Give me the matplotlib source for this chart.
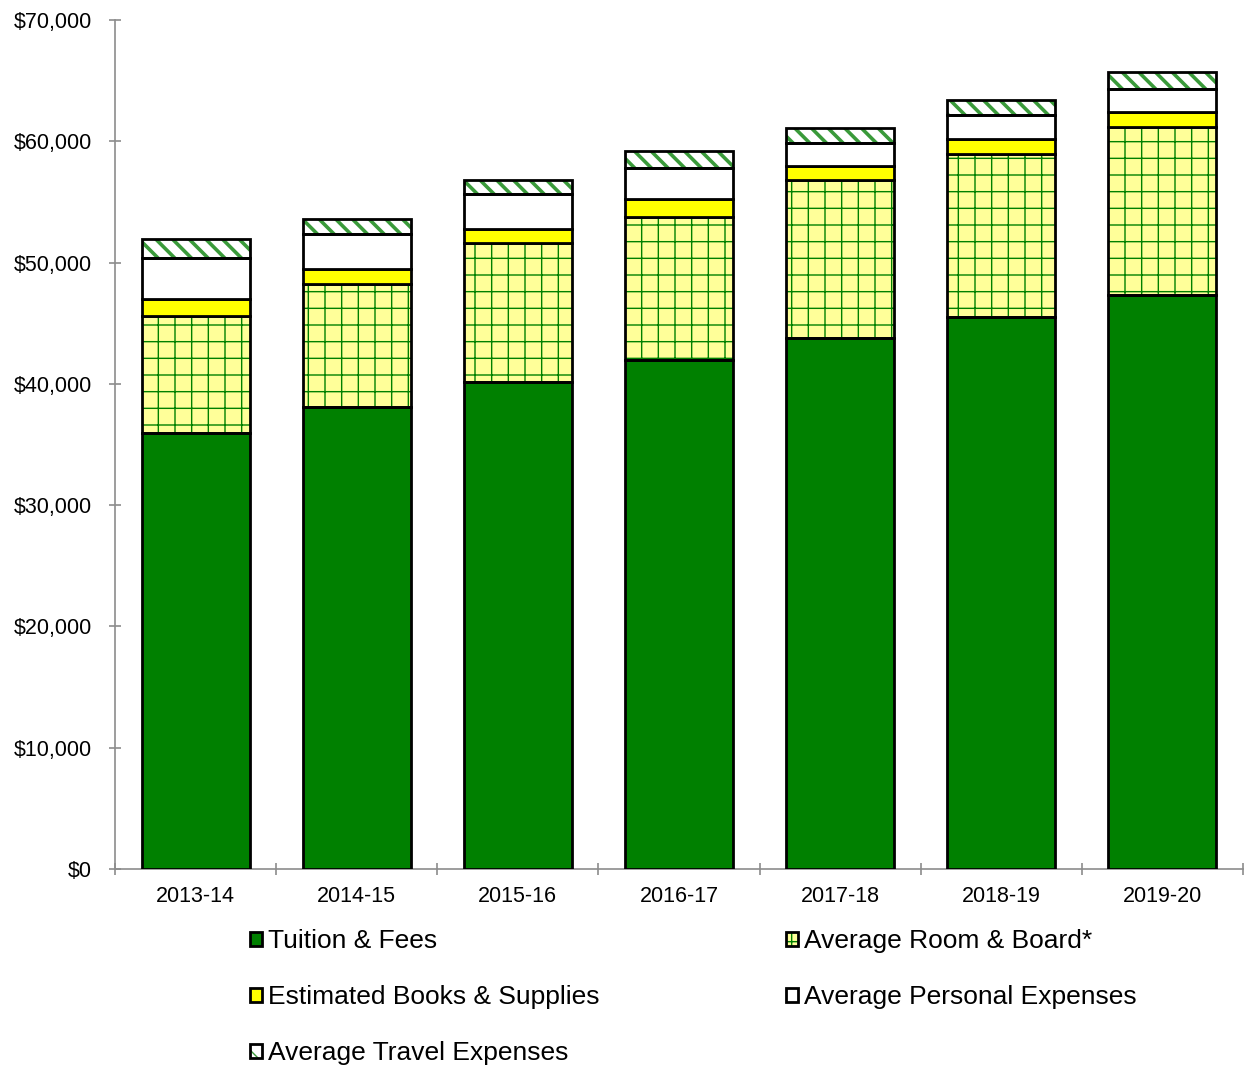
"""Stacked cost-of-attendance bars, 2013-14 to 2019-20."""

import matplotlib

matplotlib.use("Agg")

import matplotlib.pyplot as plt
from matplotlib.legend_handler import HandlerTuple
from matplotlib.ticker import FuncFormatter, MultipleLocator

plt.rcParams["font.family"] = ["Liberation Sans", "DejaVu Sans"]
plt.rcParams["hatch.linewidth"] = 1.0

years = ["2013-14", "2014-15", "2015-16", "2016-17", "2017-18", "2018-19", "2019-20"]
tuition = [35970, 38120, 40150, 41970, 43750, 45510, 47320]
room_board = [9650, 10140, 11440, 11760, 13050, 13460, 13830]
books = [1370, 1210, 1200, 1480, 1150, 1240, 1290]
personal = [3360, 2860, 2840, 2590, 1870, 1960, 1890]
travel = [1570, 1260, 1150, 1400, 1240, 1230, 1380]

labels = ["Tuition & Fees", "Average Room & Board*", "Estimated Books & Supplies",
          "Average Personal Expenses", "Average Travel Expenses"]
series = [tuition, room_board, books, personal, travel]
faces = ["#008000", "#FFFF99", "#FFFF00", "#FFFFFF", "#FFFFFF"]
hatches = [None, "+", None, None, "\\\\"]
hatch_colors = [None, "#008000", None, None, "#3A9A3A"]
hatch_widths = [None, 1.0, None, None, 2.6]

fig = plt.figure(figsize=(12.46, 10.68), dpi=100)
ax = fig.add_axes([0.0923, 0.1863, 0.9053, 0.795])

x = list(range(len(years)))
width = 0.67
bottom = [0] * len(years)
handles = {}
for lab, vals, fc, h, hc, hw in zip(labels, series, faces, hatches, hatch_colors, hatch_widths):
    parts = []
    if h:
        hb = ax.bar(x, vals, width, bottom=bottom, facecolor=fc, edgecolor=hc,
                    hatch=h, linewidth=0, zorder=2)
        for p in hb:
            if hasattr(p, "set_hatch_linewidth"):
                p.set_hatch_linewidth(hw)
        parts.append(hb[0])
        ob = ax.bar(x, vals, width, bottom=bottom, facecolor="none",
                    edgecolor="black", linewidth=2.0, zorder=3)
    else:
        ob = ax.bar(x, vals, width, bottom=bottom, facecolor=fc,
                    edgecolor="black", linewidth=2.0, zorder=3)
    parts.append(ob[0])
    handles[lab] = tuple(parts)
    bottom = [b + v for b, v in zip(bottom, vals)]

ax.set_xlim(-0.5, len(years) - 0.5)
ax.set_ylim(0, 70000)
ax.yaxis.set_major_locator(MultipleLocator(10000))
ax.yaxis.set_major_formatter(FuncFormatter(lambda v, _: f"${v:,.0f}"))
ax.set_xticks(x)
ax.set_xticklabels(years)
ax.set_xticks([i - 0.5 for i in range(len(years) + 1)], minor=True)

for side in ("top", "right"):
    ax.spines[side].set_visible(False)
for side in ("left", "bottom"):
    ax.spines[side].set_color("#8C8C8C")
    ax.spines[side].set_linewidth(1.2)

ax.tick_params(axis="y", direction="inout", length=9, width=1.2, color="#8C8C8C",
               labelsize=15.5, pad=12)
ax.tick_params(axis="x", which="major", length=0, labelsize=15.5, pad=12)
ax.tick_params(axis="x", which="minor", direction="inout", length=9, width=1.2,
               color="#8C8C8C")

order = [labels[0], labels[2], labels[4], labels[1], labels[3]]
leg = fig.legend([handles[k] for k in order], order, ncol=2, loc="upper left",
                 bbox_to_anchor=(250 / 1246, 1 - 929 / 1068), frameon=False,
                 fontsize=19, handlelength=0.45, handleheight=0.45,
                 handletextpad=0.25, columnspacing=7.05, labelspacing=1.22,
                 borderpad=0, borderaxespad=0,
                 handler_map={tuple: HandlerTuple(ndivide=1)})

fig.savefig("out.png", dpi=100)
